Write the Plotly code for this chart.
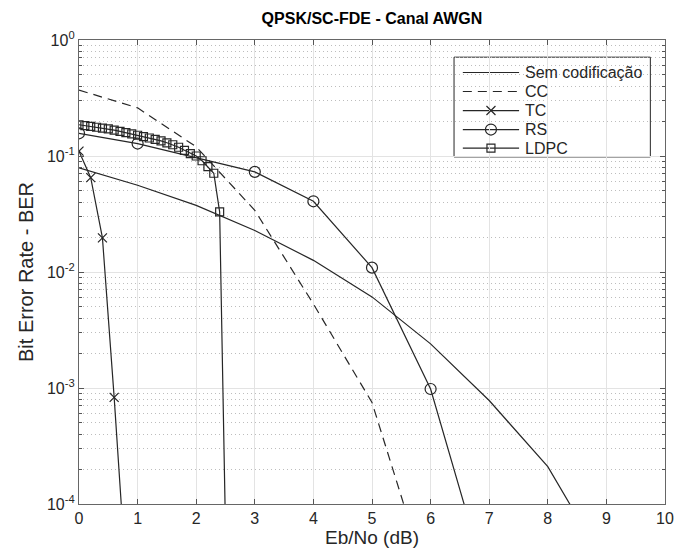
import plotly.graph_objects as go

# Eb/No grids (dB)
ebno_unc = [0, 1, 2, 3, 4, 5, 6, 7, 8, 9, 10]
ebno_cc = [0, 1, 2, 3, 4, 5, 6]
ebno_tc = [0, 0.2, 0.4, 0.6, 0.8]
ebno_rs = [0, 1, 3, 4, 5, 6, 7]
ebno_ldpc = [0.0, 0.1, 0.2, 0.3, 0.4, 0.5, 0.6, 0.7, 0.8, 0.9,
             1.0, 1.1, 1.2, 1.3, 1.4, 1.5, 1.6, 1.7, 1.8, 1.9,
             2.0, 2.1, 2.2, 2.3, 2.4, 2.5]

# BER results
ber_unc = [0.079, 0.056, 0.0375, 0.0228, 0.0126, 0.0061, 0.0024,
           0.00078, 0.00021, 3.0e-5, 4.0e-6]
ber_cc = [0.37, 0.26, 0.12, 0.034, 0.0053, 0.00075, 1.8e-5]
ber_tc = [0.11, 0.065, 0.0197, 0.00083, 2.5e-5]
ber_rs = [0.157, 0.128, 0.073, 0.0407, 0.0109, 0.00098, 1.8e-5]
ber_ldpc = [0.186, 0.183, 0.180, 0.177, 0.174, 0.171, 0.167, 0.163, 0.159, 0.155,
            0.151, 0.147, 0.143, 0.139, 0.135, 0.130, 0.125, 0.119, 0.112, 0.105,
            0.100, 0.091, 0.081, 0.071, 0.033, 6.0e-5]

legend_names = ["Sem codificação", "CC", "TC", "RS", "LDPC"]

x_ticks = list(range(0, 11))
y_ticks = [1e-4, 1e-3, 1e-2, 1e-1, 1e0]
y_ticktext = ["10<sup>-4</sup>", "10<sup>-3</sup>", "10<sup>-2</sup>",
              "10<sup>-1</sup>", "10<sup>0</sup>"]
y_minor = [m * 10.0 ** e for e in range(-4, 0) for m in range(2, 10)]

INK = "#262626"
FONT = "Liberation Sans, Arial, Helvetica, sans-serif"

# per-series styling: (dash, marker symbol, marker size)
styles = [
    ("solid", None, 0),
    ("9px,6px", None, 0),
    ("solid", "x-thin", 9),
    ("solid", "circle-open", 11),
    ("solid", "square-open", 8),
]
series = [
    (ebno_unc, ber_unc),
    (ebno_cc, ber_cc),
    (ebno_tc, ber_tc),
    (ebno_rs, ber_rs),
    (ebno_ldpc, ber_ldpc),
]

fig = go.Figure()
for (xs, ys), name, (dash, sym, msize) in zip(series, legend_names, styles):
    kw = dict(x=xs, y=ys, name=name, showlegend=False,
              line=dict(color=INK, width=1.2, dash=dash))
    if sym:
        kw["mode"] = "lines+markers"
        kw["marker"] = dict(symbol=sym, size=msize, color=INK,
                            line=dict(color=INK, width=1.2))
    else:
        kw["mode"] = "lines"
    fig.add_trace(go.Scatter(**kw))

# Legend box in the upper right corner of the axes (paper coordinates)
leg_x0, leg_x1 = 0.640, 0.975
leg_y0, leg_y1 = 0.748, 0.963
row_y = [0.930, 0.889, 0.848, 0.807, 0.767]
sample_x0, sample_x1, text_x = 0.655, 0.751, 0.758

fig.add_shape(type="rect", xref="paper", yref="paper",
              x0=leg_x0, x1=leg_x1, y0=leg_y0, y1=leg_y1,
              fillcolor="white", line=dict(color=INK, width=1), layer="between")
for yy, name, (dash, sym, msize) in zip(row_y, legend_names, styles):
    fig.add_shape(type="line", xref="paper", yref="paper",
                  x0=sample_x0, x1=sample_x1, y0=yy, y1=yy,
                  line=dict(color=INK, width=1.2, dash=dash), layer="between")
    fig.add_annotation(xref="paper", yref="paper", x=text_x, y=yy, text=name,
                       showarrow=False, xanchor="left", yanchor="middle",
                       font=dict(size=16, color=INK, family=FONT))
    if sym:
        fig.add_trace(go.Scatter(x=[(sample_x0 + sample_x1) / 2], y=[yy],
                                 xaxis="x2", yaxis="y2", mode="markers",
                                 showlegend=False, hoverinfo="skip",
                                 marker=dict(symbol=sym, size=msize, color=INK,
                                             line=dict(color=INK, width=1.2))))

fig.update_layout(
    width=676, height=555,
    margin=dict(l=79, r=11, t=40, b=51, autoexpand=False),
    paper_bgcolor="white", plot_bgcolor="white",
    font=dict(family=FONT, size=16, color=INK),
    title=dict(text="<b>QPSK/SC-FDE - Canal AWGN</b>", xref="paper", x=0.5,
               xanchor="center", y=1 - 18 / 555, yanchor="middle",
               font=dict(size=16, color="black")),
    showlegend=False,
    xaxis2=dict(overlaying="x", range=[0, 1], visible=False, anchor="y2"),
    yaxis2=dict(overlaying="y", range=[0, 1], visible=False, anchor="x2"),
)

fig.update_xaxes(
    selector=dict(overlaying=None),
    range=[0, 10], tickvals=x_ticks, ticks="inside", ticklen=5,
    tickcolor="#555", showline=True, linecolor="#666", linewidth=1.3,
    mirror="allticks", showgrid=True, gridcolor="#e3e3e3", gridwidth=1,
    zeroline=False, automargin=False, tickfont=dict(size=16, color=INK),
    title=dict(text="Eb/No (dB)", font=dict(size=19, color=INK), standoff=3),
)
fig.update_yaxes(
    selector=dict(overlaying=None),
    type="log", range=[-4, 0], tickvals=y_ticks, ticktext=y_ticktext,
    ticks="inside", ticklen=5, tickcolor="#555",
    showline=True, linecolor="#666", linewidth=1.3, mirror="allticks",
    showgrid=True, gridcolor="#e3e3e3", gridwidth=1, zeroline=False,
    automargin=False, tickfont=dict(size=16, color=INK),
    minor=dict(tickvals=y_minor, ticks="inside", ticklen=3, tickcolor="#555",
               showgrid=True, gridcolor="#bdbdbd", griddash="1px,3px", gridwidth=1),
    title=dict(text="Bit Error Rate - BER", font=dict(size=20, color=INK), standoff=7),
)

fig.write_html("out.html")
